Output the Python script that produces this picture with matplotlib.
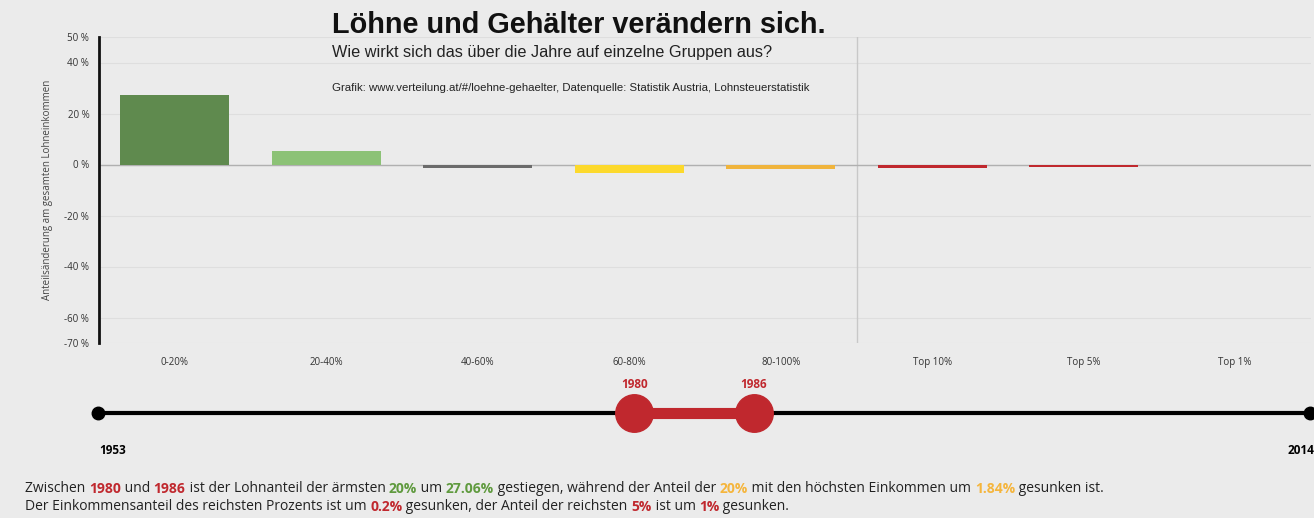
import matplotlib.pyplot as plt
import numpy as np

# Daten
categories = ["0-20%", "20-40%", "40-60%", "60-80%", "80-100%", "Top 10%", "Top 5%", "Top 1%"]
changes = [27.06, 5.3, -1.5, -3.4, -1.84, -1.3, -1.0, -0.2]
bar_colors = ["#5f8a4e", "#8cc276", "#6b6b6b", "#fcd92c", "#f0b43c", "#c0282e", "#c0282e", "#d96a6a"]
y_ticks = [50, 40, 20, 0, -20, -40, -60, -70]

year_min, year_max = 1953, 2014
year_from, year_to = 1980, 1986

BG = "#ebebeb"
RED = "#c0282e"
GREEN = "#5f9a3e"
ORANGE = "#f5b53c"

fig = plt.figure(figsize=(13.14, 5.18), dpi=100, facecolor=BG)
W, H = 1314, 518


def fx(px):
    return px / W


def fy(py):
    return 1 - py / H


# Balkendiagramm
ax = fig.add_axes([fx(99), fy(343), fx(1311) - fx(99), fy(37) - fy(343)])
ax.set_facecolor(BG)
x = np.arange(len(categories))
ax.bar(x, changes, width=0.72, color=bar_colors)
ax.set_xlim(-0.5, len(categories) - 0.5)
ax.set_ylim(-70, 50)
ax.set_yticks(y_ticks)
ax.set_yticklabels([f"{t} %" for t in y_ticks], fontsize=7, family="Open Sans", color="#333333")
ax.set_xticks(x)
ax.set_xticklabels(categories, fontsize=7, family="Open Sans", color="#333333")
ax.tick_params(length=0, pad=7)
ax.tick_params(axis="x", pad=10)
for t in y_ticks:
    ax.axhline(t, color="#dedede", lw=0.8, zorder=0)
ax.axhline(0, color="#b0b0b0", lw=1, zorder=0.5)
ax.axvline(4.5, color="#c8c8c8", lw=1, zorder=0)
for s in ["top", "right", "bottom"]:
    ax.spines[s].set_visible(False)
ax.spines["left"].set_linewidth(2)
ax.spines["left"].set_color("#111111")
ax.set_ylabel("Anteilsänderung am gesamten Lohneinkommen", fontsize=7, family="Open Sans",
              color="#444444", labelpad=8)

# Titel
fig.text(fx(332), fy(25), "Löhne und Gehälter verändern sich.", fontsize=20.8, fontweight="bold",
         family="Liberation Sans", va="center", color="#111111")
fig.text(fx(332), fy(53), "Wie wirkt sich das über die Jahre auf einzelne Gruppen aus?", fontsize=11.7,
         family="Liberation Sans", va="center", color="#222222")
fig.text(fx(332), fy(88), "Grafik: www.verteilung.at/#/loehne-gehaelter, Datenquelle: Statistik Austria, Lohnsteuerstatistik",
         fontsize=8.2, family="Liberation Sans", va="center", color="#222222")

# Zeitleiste
sx = fig.add_axes([fx(98), fy(470), fx(1310) - fx(98), fy(370) - fy(470)])
sx.set_xlim(year_min, year_max)
sx.set_ylim(-1, 1)
sx.axis("off")
sx.set_facecolor("none")
line_y = 1 - 2 * (413 - 370) / 100
sx.plot([year_min, year_max], [line_y, line_y], color="black", lw=3, solid_capstyle="butt", clip_on=False)
sx.plot([year_min, year_max], [line_y, line_y], "o", color="black", ms=9, clip_on=False)
sx.plot([year_from, year_to], [line_y, line_y], color=RED, lw=8, solid_capstyle="butt", zorder=3)
sx.plot([year_from, year_to], [line_y, line_y], "o", color=RED, ms=27, zorder=4)
lab_y = 1 - 2 * (385 - 370) / 100
for yr in (year_from, year_to):
    sx.text(yr, lab_y, str(yr), color=RED, fontsize=8.5, fontweight="bold", family="Open Sans",
            ha="center", va="center")
end_y = 1 - 2 * (450 - 370) / 100
sx.text(year_min + 0.05, end_y, str(year_min), fontsize=8.5, fontweight="bold", family="Open Sans",
        ha="left", va="center", clip_on=False)
sx.text(year_max + 0.2, end_y, str(year_max), fontsize=8.5, fontweight="bold", family="Open Sans",
        ha="right", va="center", clip_on=False)

# Beschreibung mit farbigen Werten
fig.canvas.draw()
renderer = fig.canvas.get_renderer()


def rich_line(parts, x0, y0, size=10.0):
    xpos = x0
    for txt, col, bold in parts:
        t = fig.text(xpos / W, fy(y0), txt, fontsize=size, color=col,
                     fontweight="bold" if bold else "normal", family="Open Sans", va="center")
        bb = t.get_window_extent(renderer)
        xpos += bb.width


DARK = "#222222"
line1 = [
    ("Zwischen ", DARK, False), (str(year_from), RED, True), (" und ", DARK, False),
    (str(year_to), RED, True), (" ist der Lohnanteil der ärmsten ", DARK, False),
    ("20%", GREEN, True), (" um ", DARK, False), (f"{changes[0]:.2f}%", GREEN, True),
    (" gestiegen, während der Anteil der ", DARK, False), ("20%", ORANGE, True),
    (" mit den höchsten Einkommen um ", DARK, False), (f"{abs(changes[4]):.2f}%", ORANGE, True),
    (" gesunken ist.", DARK, False),
]
line2 = [
    ("Der Einkommensanteil des reichsten Prozents ist um ", DARK, False),
    (f"{abs(changes[7]):.1f}%", RED, True),
    (" gesunken, der Anteil der reichsten ", DARK, False), ("5%", RED, True),
    (" ist um ", DARK, False), (f"{abs(changes[6]):.0f}%", RED, True), (" gesunken.", DARK, False),
]
rich_line(line1, 25, 489)
rich_line(line2, 25, 507)

fig.savefig("out.png", dpi=100, facecolor=BG)
